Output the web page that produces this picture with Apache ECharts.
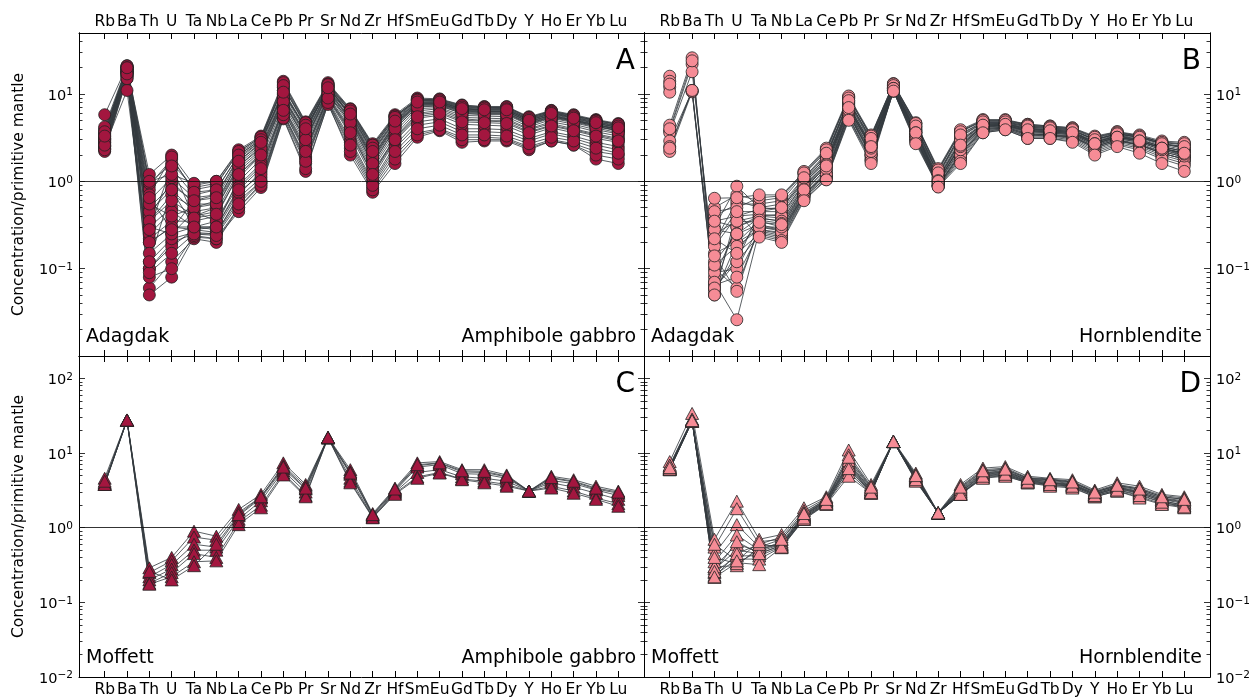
<!DOCTYPE html>
<html><head><meta charset="utf-8">
<script src="https://cdn.jsdelivr.net/npm/echarts@6/dist/echarts.min.js"></script>
<style>html,body{margin:0;padding:0;background:#fff}#c{width:1258px;height:698px}</style>
</head><body><div id="c"></div>
<script>
// ---------- DATA ----------
const elements = ['Rb','Ba','Th','U','Ta','Nb','La','Ce','Pb','Pr','Sr','Nd','Zr','Hf','Sm','Eu','Gd','Tb','Dy','Y','Ho','Er','Yb','Lu'];

// Panel A: Adagdak, amphibole gabbro (values normalised to primitive mantle)
const adagdakGabbro = [
 [3.2,20,0.9,1.8,0.8,0.9,2.2,3.2,12,4.5,12,6.5,2.5,5.5,8.8,8.5,7.2,7.0,7.0,5.4,6.3,5.6,5.0,4.4],
 [2.8,19,0.5,0.9,0.6,0.7,1.8,2.9,10,4.2,11,6.0,2.2,5.0,8.2,8.0,6.8,6.5,6.6,5.0,6.0,5.3,4.6,4.2],
 [3.5,21,0.3,0.5,0.4,0.5,1.5,2.5,9,3.6,12.5,5.5,1.9,4.6,7.8,7.8,6.5,6.3,6.3,4.9,5.7,5.0,4.5,4.0],
 [2.5,18,0.2,0.3,0.3,0.3,1.1,2.0,8,3.0,10,4.8,1.6,4.0,7.2,7.4,6.0,5.9,5.9,4.5,5.4,4.8,4.2,3.8],
 [4.0,20,1.2,2.0,0.9,1.0,2.3,3.3,14,4.8,13.5,6.8,2.7,5.8,9.0,8.8,7.5,7.2,7.2,5.5,6.5,5.8,5.1,4.6],
 [3.0,17,0.1,0.2,0.25,0.25,0.7,1.3,7,2.4,9,3.8,1.2,3.2,6.0,6.5,5.2,5.0,5.0,3.9,4.6,4.0,3.5,3.1],
 [2.3,16,0.06,0.12,0.22,0.2,0.5,0.95,5.5,1.6,8,2.4,0.85,2.0,3.6,4.0,3.2,3.2,3.1,2.5,3.0,2.7,2.2,2.0],
 [2.6,17,0.05,0.08,0.23,0.22,0.45,0.85,5.2,1.3,7.8,2.0,0.75,1.6,3.2,3.8,2.8,2.9,2.9,2.3,2.9,2.6,1.8,1.6],
 [3.3,19,0.35,0.7,0.5,0.6,1.6,2.6,10,3.8,11.5,5.6,2.0,4.6,7.9,7.9,6.6,6.4,6.4,4.8,5.8,5.1,4.5,3.9],
 [3.8,20,0.8,1.4,0.7,0.8,2.0,3.0,12,4.3,12.5,6.3,2.4,5.3,8.5,8.3,7.0,6.8,6.8,5.2,6.2,5.4,4.8,4.3],
 [2.9,18,0.22,0.35,0.35,0.4,1.2,2.1,8.5,3.1,10.5,5.0,1.7,4.2,7.4,7.5,6.2,6.0,6.0,4.6,5.5,4.9,4.3,3.8],
 [2.4,16,0.1,0.18,0.28,0.26,0.65,1.1,6,1.9,8.5,3.0,1.0,2.6,4.8,5.2,4.0,4.0,3.9,3.1,3.7,3.3,2.8,2.5],
 [5.8,21,0.4,1.0,0.55,0.55,1.7,2.7,11,3.9,12,5.8,2.1,4.8,8.0,8.1,6.7,6.6,6.5,5.0,5.9,5.2,4.6,4.1],
 [3.6,19,0.6,1.1,0.65,0.7,1.9,2.9,11,4.1,12,6.1,2.3,5.1,8.4,8.2,6.9,6.7,6.7,5.1,6.1,5.4,4.8,4.2],
 [2.7,18,0.25,0.45,0.3,0.35,1.0,1.8,7.5,2.8,10,4.4,1.5,3.7,6.8,7.0,5.7,5.6,5.5,4.2,5.1,4.5,3.9,3.5],
 [3.1,17,0.3,0.25,0.45,0.35,0.9,1.6,7,2.6,9.5,4.1,1.4,3.4,6.4,6.8,5.4,5.3,5.2,4.0,4.8,4.3,3.7,3.3],
 [2.5,11,0.12,0.22,0.26,0.25,0.6,1.0,6,1.8,8.2,2.8,0.95,2.4,4.4,4.8,3.7,3.7,3.6,2.9,3.5,3.1,2.6,2.3],
 [3.4,20,0.95,1.6,0.85,0.95,2.1,3.1,13,4.6,13,6.6,2.6,5.6,8.6,8.6,7.3,7.0,7.0,5.3,6.4,5.6,5.0,4.5],
 [2.2,15,0.08,0.1,0.24,0.22,0.5,0.9,5.3,1.4,7.6,2.2,0.8,1.8,3.4,3.9,3.0,3.0,3.0,2.4,2.9,2.6,2.0,1.8],
 [3.0,18,0.45,0.8,0.45,0.5,1.4,2.3,9,3.4,11,5.2,1.8,4.4,7.6,7.7,6.4,6.2,6.2,4.7,5.6,5.0,4.4,3.9],
 [2.6,17,0.2,0.3,0.28,0.3,0.85,1.5,6.8,2.3,9.3,3.9,1.3,3.1,5.8,6.2,5.0,4.9,4.8,3.7,4.4,3.9,3.4,3.0],
 [4.2,21,1.0,1.2,0.95,1.0,2.2,3.2,13.5,4.7,13,6.7,2.6,5.6,8.7,8.7,7.4,7.1,7.1,5.4,6.4,5.7,5.0,4.5],
 [2.8,18,0.35,0.6,0.4,0.45,1.3,2.2,8.8,3.3,10.8,5.1,1.8,4.3,7.5,7.6,6.3,6.1,6.1,4.6,5.5,4.9,4.3,3.8],
 [2.4,16,0.15,0.25,0.3,0.28,0.75,1.2,6.4,2.1,8.8,3.4,1.1,2.9,5.3,5.7,4.5,4.4,4.3,3.4,4.1,3.6,3.1,2.8],
 [3.7,20,0.7,1.9,0.75,0.8,2.0,3.0,12.5,4.4,12.8,6.4,2.4,5.4,8.5,8.4,7.1,6.9,6.8,5.2,6.2,5.5,4.9,4.3],
 [2.3,15,0.09,0.15,0.25,0.24,0.55,1.0,5.8,1.7,8.0,2.6,0.9,2.2,4.0,4.4,3.4,3.4,3.3,2.7,3.2,2.9,2.4,2.1],
 [3.1,19,0.55,0.4,0.5,0.55,1.5,2.4,9.5,3.5,11.2,5.3,1.9,4.5,7.7,7.8,6.5,6.3,6.3,4.8,5.7,5.0,4.4,4.0],
 [2.9,18,0.28,1.5,0.38,0.42,1.2,2.0,8.2,3.0,10.2,4.7,1.6,4.0,7.1,7.3,6.0,5.8,5.8,4.4,5.3,4.7,4.1,3.6],
 [2.6,17,0.12,0.8,0.3,0.3,0.8,1.4,6.5,2.2,9.0,3.6,1.2,3.0,5.5,6.0,4.8,4.7,4.6,3.6,4.3,3.8,3.3,2.9],
 [3.3,20,0.65,0.28,0.6,0.65,1.7,2.8,10.5,4.0,11.8,5.9,2.2,4.9,8.1,8.1,6.8,6.6,6.6,5.0,6.0,5.3,4.7,4.1]
];

// Panel B: Adagdak, hornblendite (null = not analysed)
const adagdakHornblendite = [
 [4.4,26,0.06,0.12,0.45,0.5,1.0,1.9,8.5,3.0,12.5,4.3,1.2,3.5,4.8,4.8,4.3,4.1,3.9,3.0,3.5,3.2,2.7,2.5],
 [3.8,22,0.08,0.3,0.38,0.35,0.85,1.6,7.5,2.6,11.8,3.8,1.05,2.9,4.5,4.6,4.0,3.9,3.7,2.8,3.3,3.0,2.5,2.2],
 [3.6,18,0.1,0.06,0.3,0.28,0.75,1.4,6.5,2.2,11.5,3.4,0.95,2.4,4.2,4.4,3.7,3.6,3.4,2.6,3.1,2.8,2.3,2.0],
 [2.9,10.8,0.05,0.2,0.28,0.25,0.7,1.2,6.0,2.0,11.0,3.2,0.9,2.1,4.0,4.2,3.5,3.4,3.2,2.5,3.0,2.6,2.2,1.9],
 [2.2,10.6,0.055,0.15,0.25,0.22,0.65,1.1,5.5,1.8,10.8,3.0,0.88,1.9,3.8,4.0,3.3,3.3,3.1,2.3,2.8,2.5,2.0,1.7],
 [2.5,11,0.07,0.026,0.27,0.24,0.68,1.15,5.8,1.9,11.0,3.1,0.9,2.0,3.9,4.1,3.4,3.3,3.2,2.4,2.9,2.6,2.1,1.8],
 [16,null,0.5,0.7,0.6,0.65,1.25,2.3,9.0,3.3,13,4.6,1.35,3.8,5.0,5.0,4.5,4.3,4.1,3.2,3.7,3.3,2.8,2.7],
 [14,null,0.4,0.55,0.55,0.6,1.2,2.2,9.3,3.2,12.8,4.5,1.3,3.7,4.9,4.9,4.4,4.2,4.0,3.1,3.6,3.3,2.8,2.6],
 [12,null,0.3,0.88,0.5,0.55,1.1,2.0,8.0,2.9,12.2,4.1,1.2,3.3,4.7,4.7,4.2,4.0,3.8,3.0,3.5,3.2,2.7,2.4],
 [10.5,null,0.2,0.45,0.45,0.45,1.0,1.9,7.8,2.8,12.0,4.0,1.15,3.0,4.6,4.6,4.1,3.9,3.7,2.9,3.4,3.1,2.6,2.3],
 [13,null,0.35,0.3,0.4,0.42,0.95,1.8,7.2,2.7,11.8,3.9,1.1,2.8,4.5,4.5,4.0,3.8,3.6,2.8,3.3,3.0,2.5,2.2],
 [null,null,0.15,0.2,0.35,0.3,0.8,1.5,6.8,2.4,11.6,3.6,1.0,2.6,4.3,4.4,3.8,3.7,3.5,2.7,3.2,2.9,2.4,2.1],
 [null,null,0.12,0.25,0.32,0.28,0.72,1.3,6.2,2.1,11.2,3.3,0.95,2.2,4.1,4.3,3.6,3.5,3.3,2.5,3.0,2.7,2.2,1.9],
 [null,null,0.25,0.35,0.4,0.38,0.9,1.7,7.0,2.5,11.7,3.7,1.05,2.7,4.4,4.5,3.9,3.8,3.6,2.8,3.3,2.9,2.4,2.1],
 [null,null,0.09,0.1,0.3,0.27,0.7,1.25,6.0,2.0,11.1,3.2,0.92,2.1,4.0,4.2,3.5,3.4,3.3,2.5,3.0,2.6,2.1,1.8],
 [null,null,0.2,0.6,0.5,0.48,1.05,2.0,8.2,3.0,12.4,4.2,1.2,3.2,4.7,4.7,4.2,4.0,3.8,3.0,3.5,3.2,2.7,2.4],
 [null,null,0.18,0.4,0.42,0.4,0.95,1.75,7.4,2.6,11.9,3.8,1.1,2.9,4.5,4.6,4.0,3.9,3.7,2.8,3.4,3.0,2.5,2.2],
 [null,null,0.065,0.08,0.26,0.23,0.66,1.1,5.4,1.75,10.9,2.9,0.88,1.8,3.7,4.0,3.2,3.2,3.0,2.2,2.7,2.4,1.9,1.6],
 [null,null,0.45,0.5,0.65,0.68,1.3,2.4,9.5,3.4,13.2,4.7,1.4,3.9,5.1,5.1,4.5,4.3,4.1,3.3,3.7,3.4,2.9,2.8],
 [null,null,0.28,0.25,0.38,0.35,0.88,1.6,6.9,2.5,11.5,3.6,1.0,2.5,4.3,4.4,3.8,3.7,3.5,2.7,3.2,2.9,2.4,2.0],
 [null,null,0.11,0.18,0.28,0.26,0.7,1.2,5.9,2.0,11.0,3.1,0.9,2.0,3.9,4.1,3.4,3.4,3.2,2.4,2.9,2.6,2.1,1.8],
 [null,null,0.64,0.65,0.7,0.7,1.25,2.3,9.0,3.3,13.0,4.6,1.35,3.7,5.0,5.0,4.4,4.2,4.0,3.2,3.6,3.3,2.8,2.7],
 [null,null,0.07,0.12,0.24,0.21,0.62,1.05,5.2,1.7,10.8,2.8,0.87,1.7,3.6,3.9,3.1,3.1,2.9,2.1,2.6,2.3,1.8,1.5],
 [null,null,0.35,0.4,0.48,0.5,1.1,2.1,8.4,3.1,12.5,4.3,1.25,3.4,4.8,4.8,4.3,4.1,3.9,3.0,3.5,3.2,2.7,2.5],
 [null,null,0.14,0.055,0.3,0.3,0.76,1.4,6.4,2.2,11.3,3.4,0.98,2.3,4.2,4.3,3.7,3.6,3.4,2.6,3.1,2.8,2.3,1.95],
 [null,null,0.22,0.15,0.36,0.33,0.82,1.55,6.6,2.4,11.6,3.6,1.02,2.5,4.3,4.4,3.8,3.7,3.5,2.7,3.2,2.9,2.4,2.05],
 [4.0,24,0.06,0.35,0.34,0.32,0.8,1.5,7.0,2.5,11.6,3.6,1.0,2.6,4.4,4.5,3.9,3.8,3.6,2.7,3.2,2.9,2.4,2.1],
 [2.4,11,0.05,0.45,0.23,0.2,0.6,1.04,5.0,1.6,10.8,2.7,0.86,1.6,3.6,3.9,3.1,3.1,2.8,2.0,2.5,2.1,1.6,1.3]
];

// Panel C: Moffett, amphibole gabbro
const moffettGabbro = [
 [4.6,27.8,0.29,0.40,0.90,0.77,1.76,2.8,7.4,3.8,16.3,6.0,1.55,3.4,7.4,7.7,6.0,6.0,5.1,3.1,4.9,4.4,3.6,3.1],
 [4.0,27.5,0.25,0.36,0.75,0.68,1.6,2.6,6.8,3.6,16.0,5.6,1.5,3.2,6.8,7.3,5.6,5.5,4.8,3.1,4.6,4.1,3.3,2.9],
 [3.8,27.5,0.22,0.32,0.6,0.55,1.45,2.5,6.2,3.3,16.0,5.2,1.45,3.1,6.5,7.0,5.3,5.2,4.6,3.1,4.3,3.9,3.2,2.7],
 [3.9,27.8,0.2,0.28,0.5,0.5,1.3,2.3,5.8,3.0,16.2,4.6,1.4,3.0,5.5,6.0,4.8,4.6,4.2,3.1,4.0,3.5,2.9,2.4],
 [3.8,27.6,0.18,0.25,0.45,0.4,1.2,2.0,5.4,2.7,16.0,4.2,1.38,2.9,4.8,5.5,4.5,4.2,3.8,3.1,3.6,3.1,2.5,2.1],
 [3.8,27.4,0.175,0.22,0.35,0.36,1.1,1.85,5.1,2.6,16.1,4.0,1.36,2.8,4.6,5.4,4.4,4.0,3.6,3.1,3.4,2.9,2.4,1.94],
 [4.2,27.7,0.26,0.2,0.31,0.6,1.5,2.6,6.5,3.4,16.2,5.4,1.5,3.3,7.0,7.4,5.8,5.7,4.9,3.1,4.7,4.2,3.4,3.0]
];

// Panel D: Moffett, hornblendite
const moffettHornblendite = [
 [7.7,34,0.7,2.27,0.7,0.81,1.85,2.6,11,3.8,14.5,5.4,1.6,3.8,6.3,6.6,4.9,4.6,4.4,3.2,4.0,3.6,2.8,2.6],
 [6.8,28,0.55,1.8,0.6,0.75,1.7,2.5,9.5,3.6,14.3,5.2,1.58,3.6,6.0,6.3,4.7,4.5,4.2,3.1,3.8,3.4,2.7,2.5],
 [6.4,27,0.45,1.1,0.55,0.7,1.6,2.4,8.5,3.4,14.3,5.0,1.58,3.4,5.7,6.0,4.6,4.4,4.1,3.0,3.7,3.3,2.6,2.4],
 [6.2,27,0.35,0.8,0.5,0.65,1.5,2.3,7.5,3.2,14.2,4.8,1.57,3.2,5.4,5.7,4.4,4.2,3.9,2.9,3.5,3.1,2.5,2.2],
 [6.0,26.5,0.3,0.6,0.48,0.6,1.45,2.25,7.0,3.1,14.3,4.6,1.58,3.0,5.2,5.5,4.3,4.0,3.8,2.8,3.4,3.0,2.4,2.1],
 [6.5,27.5,0.28,0.5,0.45,0.58,1.4,2.2,6.5,3.0,14.3,4.5,1.58,2.9,5.0,5.3,4.2,3.9,3.7,2.8,3.3,2.9,2.3,2.0],
 [6.1,26.8,0.25,0.42,0.42,0.56,1.35,2.15,6.0,2.95,14.2,4.4,1.57,2.85,4.8,5.1,4.1,3.8,3.6,2.7,3.2,2.8,2.2,1.95],
 [6.3,27.2,0.23,0.38,0.38,0.55,1.3,2.1,5.5,2.9,14.3,4.3,1.58,2.8,4.7,5.0,4.0,3.7,3.5,2.6,3.1,2.6,2.1,1.9],
 [6.6,27.8,0.216,0.34,0.32,0.54,1.29,2.05,4.9,2.9,14.4,4.2,1.58,2.8,4.6,4.9,4.0,3.6,3.4,2.6,3.1,2.5,2.05,1.85],
 [6.2,27,0.3,0.31,0.55,0.6,1.45,2.3,7.2,3.2,14.3,4.7,1.58,3.1,5.3,5.6,4.4,4.1,3.8,2.9,3.5,3.0,2.4,2.2],
 [6.0,26.6,0.4,0.33,0.5,0.62,1.5,2.35,8.0,3.3,14.3,4.9,1.58,3.3,5.5,5.8,4.5,4.3,4.0,3.0,3.6,3.2,2.5,2.3],
 [6.9,28.5,0.26,0.65,0.45,0.58,1.4,2.2,6.8,3.0,14.3,4.5,1.58,3.0,5.1,5.4,4.2,4.0,3.7,2.8,3.4,2.9,2.3,2.0],
 [6.1,27,0.22,0.45,0.6,0.55,1.35,2.1,6.2,2.95,14.3,4.4,1.57,2.8,4.9,5.2,4.1,3.8,3.6,2.7,3.2,2.7,2.2,1.9],
 [6.4,27.3,0.6,0.36,0.65,0.7,1.55,2.4,8.8,3.5,14.3,5.0,1.58,3.5,5.8,6.1,4.6,4.4,4.1,3.0,3.7,3.3,2.6,2.4]
];

const panelLetters = ['A','B','C','D'];
const siteNames = ['Adagdak','Adagdak','Moffett','Moffett'];
const rockNames = ['Amphibole gabbro','Hornblendite','Amphibole gabbro','Hornblendite'];
const yTitle = 'Concentration/primitive mantle';

const yMajorTop = [0.1,1,10];
const yMajorTopExp = ['−1','0','1'];
const yMajorBottom = [0.01,0.1,1,10,100];
const yMajorBottomExp = ['−2','−1','0','1','2'];
const yMinorTop = [0.02,0.03,0.04,0.05,0.06,0.07,0.08,0.09,0.2,0.3,0.4,0.5,0.6,0.7,0.8,0.9,2,3,4,5,6,7,8,9,20,30,40];
const yMinorBottom = [0.02,0.03,0.04,0.05,0.06,0.07,0.08,0.09,0.2,0.3,0.4,0.5,0.6,0.7,0.8,0.9,2,3,4,5,6,7,8,9,20,30,40,50,60,70,80,90];

// ---------- LAYOUT / STYLE ----------
const FONT = 'DejaVu Sans';
const grids = [
  {left:79, top:33, width:565, height:323},
  {left:644, top:33, width:566, height:323},
  {left:79, top:356, width:565, height:321},
  {left:644, top:356, width:566, height:321}
];
const panels = [
  {data: adagdakGabbro, color:'#a3163f', symbol:'circle', size:12, yMax:50, labelsTop:true, yLeft:true,
   major:yMajorTop, majorExp:yMajorTopExp, minor:yMinorTop},
  {data: adagdakHornblendite, color:'#f68c96', symbol:'circle', size:12, yMax:50, labelsTop:true, yLeft:false,
   major:yMajorTop, majorExp:yMajorTopExp, minor:yMinorTop},
  {data: moffettGabbro, color:'#a3163f', symbol:'triangle', size:[13,12], yMax:200, labelsTop:false, yLeft:true,
   major:yMajorBottom, majorExp:yMajorBottomExp, minor:yMinorBottom},
  {data: moffettHornblendite, color:'#f68c96', symbol:'triangle', size:[13,12], yMax:200, labelsTop:false, yLeft:false,
   major:yMajorBottom, majorExp:yMajorBottomExp, minor:yMinorBottom}
];
const elementIdx = elements.map((_, i) => i);

const xAxes = [], yAxes = [], series = [], graphics = [];
panels.forEach((p, k) => {
  ['bottom','top'].forEach(pos => {
    const showLab = (pos === 'top') === p.labelsTop;
    xAxes.push({
      type:'value', gridIndex:k, position:pos, min:-1.15, max:24.15,
      axisLine:{show:true, onZero:false, lineStyle:{color:'#000', width:1}},
      splitLine:{show:false},
      axisTick:{show:true, inside:true, length:6, customValues:elementIdx, lineStyle:{color:'#000', width:1}},
      axisLabel:{show:showLab, customValues:elementIdx, formatter:v => elements[Math.round(v)] || '',
        margin: pos === 'top' ? 3 : 5, fontSize:15.5, color:'#000', fontFamily:FONT}
    });
  });
  const mkY = (pos, ticks, len, labelled) => ({
    type:'log', logBase:10, gridIndex:k, position:pos, offset:0, min:0.01, max:p.yMax,
    axisLine:{show:true, onZero:false, lineStyle:{color:'#000', width:1}},
    splitLine:{show:false}, minorTick:{show:false},
    axisTick:{show:true, inside:true, length:len, customValues:ticks, lineStyle:{color:'#000', width:0.8}},
    axisLabel:{show:labelled, customValues: labelled ? p.major : [],
      formatter: v => { const i = p.major.findIndex(m => Math.abs(m - v) / m < 1e-6); return i >= 0 ? '{b|10}{e|' + p.majorExp[i] + '}' : ''; },
      margin: 6, color:'#000', fontFamily:FONT, padding:[4,0,0,0],
      rich:{
        b:{fontSize:14.5, fontFamily:FONT, color:'#000', lineHeight:18},
        e:{fontSize:10.5, fontFamily:FONT, color:'#000', lineHeight:11, verticalAlign:'top'}
      }}
  });
  yAxes.push(mkY('left', p.major, 6, p.yLeft));
  yAxes.push(mkY('left', p.minor, 3.5, false));
  yAxes.push(mkY('right', p.major, 6, !p.yLeft));
  yAxes.push(mkY('right', p.minor, 3.5, false));

  p.data.forEach((row, si) => {
    const s = {
      type:'line', xAxisIndex:2*k, yAxisIndex:4*k,
      data: row.map((v, i) => [i, v == null ? '-' : v]),
      connectNulls:false,
      symbol:p.symbol, symbolSize:p.size, showSymbol:true, showAllSymbol:true,
      itemStyle:{color:p.color, borderColor:'#222', borderWidth:0.8},
      lineStyle:{color:'#33393e', width:1, opacity:0.8},
      emphasis:{disabled:true}, silent:true, animation:false
    };
    if (si === 0) {
      s.markLine = {silent:true, symbol:'none', animation:false, label:{show:false},
        lineStyle:{color:'#111', width:1, type:'solid', opacity:0.85}, data:[{yAxis:1}]};
    }
    series.push(s);
  });

  const g = grids[k];
  const right = g.left + g.width;
  const bottom = g.top + g.height;
  graphics.push({type:'text', x:right - 9, y:g.top + 29, z:100,
    style:{text:panelLetters[k], fontSize:28, fontFamily:FONT, fill:'#000', textAlign:'right', textVerticalAlign:'middle'}});
  graphics.push({type:'text', x:g.left + 7, y:bottom - 19, z:100,
    style:{text:siteNames[k], fontSize:19, fontFamily:FONT, fill:'#000', textAlign:'left', textVerticalAlign:'middle'}});
  graphics.push({type:'text', x:right - 8, y:bottom - 19, z:100,
    style:{text:rockNames[k], fontSize:19, fontFamily:FONT, fill:'#000', textAlign:'right', textVerticalAlign:'middle'}});
  if (p.yLeft) {
    graphics.push({type:'text', x:19, y:g.top + g.height / 2, rotation:Math.PI / 2, z:100,
      style:{text:yTitle, fontSize:15.5, fontFamily:FONT, fill:'#000', textAlign:'center', textVerticalAlign:'middle'}});
  }
});

const chart = echarts.init(document.getElementById('c'), null, {renderer:'canvas'});
chart.setOption({
  backgroundColor:'#fff',
  animation:false,
  grid: grids.map(g => Object.assign({outerBoundsMode:'none', containLabel:false}, g)),
  xAxis: xAxes,
  yAxis: yAxes,
  series: series,
  graphic: graphics
});
</script>
</body></html>
